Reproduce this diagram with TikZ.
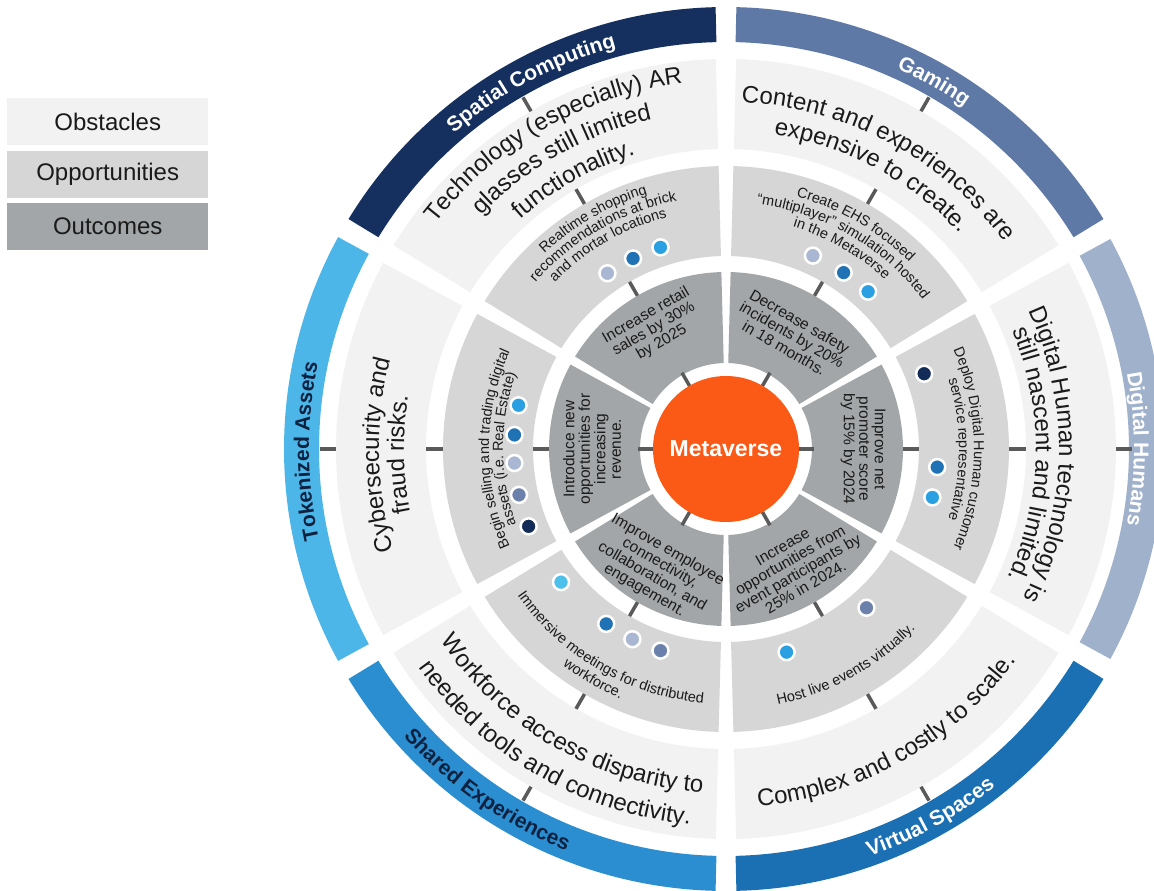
\documentclass[tikz,border=0pt]{standalone}
\usepackage{fontspec}
\setmainfont{Liberation Sans}
\usetikzlibrary{decorations.text}
\definecolor{obs}{HTML}{F2F2F2}
\definecolor{opp}{HTML}{D6D6D6}
\definecolor{outc}{HTML}{A3A6A8}
\definecolor{meta}{HTML}{FB5A16}
\definecolor{tickc}{HTML}{5A5A5A}
\definecolor{bSpatial}{HTML}{15305E}
\definecolor{bGaming}{HTML}{5E79A6}
\definecolor{bDigital}{HTML}{A0B1CC}
\definecolor{bVirtual}{HTML}{1A70B3}
\definecolor{bShared}{HTML}{2A8ED1}
\definecolor{bToken}{HTML}{4DB6E9}
\definecolor{dLgb}{HTML}{A9B7D3}
\definecolor{dMed}{HTML}{1F72B3}
\definecolor{dBright}{HTML}{2A9FE2}
\definecolor{dNavy}{HTML}{132B58}
\definecolor{dSlate}{HTML}{6B81AC}
\definecolor{dSky}{HTML}{4CBFEA}
\definecolor{labdark}{HTML}{0E2240}
\definecolor{txt}{HTML}{1A1A1A}
\newcommand\annsec[5]{\fill[#1] (#2:#4) arc[start angle=#2,end angle=#3,radius=#4] -- (#3:#5) arc[start angle=#3,end angle=#2,radius=#5] -- cycle;}
\newcommand\cwline[4]{\path[decorate,decoration={text along path,text align=center,text={#4}}] ({#1+#3}:#2) arc[start angle={#1+#3},end angle={#1-#3},radius=#2];}
\newcommand\ccwline[4]{\path[decorate,decoration={text along path,text align=center,text={#4}}] ({#1-#3}:#2) arc[start angle={#1-#3},end angle={#1+#3},radius=#2];}
\newcommand\obsfont{\fontsize{24}{26}\selectfont\color{txt}}
\newcommand\oppfont{\fontsize{14.5}{16}\selectfont\color{txt}}
\newcommand\bandfont{\bfseries\fontsize{21}{24}\selectfont}
\tikzset{
  tickmark/.style={draw=tickc, line width=3.5pt},
  dot/.style={draw=white, line width=2.5pt},
  outtext/.style={align=center, text=txt, font=\fontsize{15.5}{15.5}\selectfont, inner sep=0pt},
  legbox/.style={minimum width=201pt, minimum height=47pt, inner sep=0pt, font=\fontsize{24}{26}\selectfont, text=txt, anchor=north west},
}
\begin{document}
\begin{tikzpicture}[x=1pt,y=1pt]
\useasboundingbox (-726,-442) rectangle (428,449);
\fill[white] (-726,-442) rectangle (428,449);
\clip (-726,-442) rectangle (428,449);
% rings
\foreach \c in {0,60,...,300}{
  \pgfmathsetmacro\aS{\c-28.5}\pgfmathsetmacro\aE{\c+28.5}
  \annsec{obs}{\aS}{\aE}{300}{390}
  \annsec{opp}{\aS}{\aE}{193}{283}
  \annsec{outc}{\aS}{\aE}{86}{177}
}
\foreach \c/\col/\ri in {0/bDigital/403,60/bGaming/407,120/bSpatial/407,180/bToken/407,240/bShared/407,300/bVirtual/407}{
  \pgfmathsetmacro\aS{\c-28.65}\pgfmathsetmacro\aE{\c+28.65}\pgfmathsetmacro\ro{\ri+35}
  \annsec{\col}{\aS}{\aE}{\ri}{\ro}
}
% ticks
\foreach \c in {0,60,...,300}{
  \foreach \ra/\rb in {390/406,283/300,177/193,70/88}{
    \draw[tickmark] (\c:\ra) -- (\c:\rb);
  }
}
% centre
\node[circle, fill=meta, minimum size=146pt, inner sep=0pt, text=white, font=\bfseries\fontsize{23}{25}\selectfont] (meta) at (0,0) {Metaverse};
% dots
\foreach \a/\col in {124/dLgb,116/dMed,108/dBright,65.8/dLgb,56.3/dMed,47.9/dBright,20.8/dNavy,-4.9/dMed,-13.2/dBright,311.5/dSlate,286.6/dBright,218.9/dSky,235.6/dMed,243.8/dLgb,252/dSlate,168.1/dBright,176.2/dMed,183.8/dLgb,192.5/dSlate,201.4/dNavy}{
  \filldraw[dot, fill=\col] (\a:212) circle[radius=8];
}
% band labels
\cwline{118}{417}{28}{|\bandfont\color{white}|Spatial Computing}
\cwline{60.5}{417}{28}{|\bandfont\color{white}|Gaming}
\cwline{0}{408}{28}{|\bandfont\color{white}|Digital Humans}
\cwline{180.3}{417}{28}{|\bandfont\color{labdark}|Tokenized Assets}
\ccwline{299}{432}{28}{|\bandfont\color{white}|Virtual Spaces}
\ccwline{235}{432}{28}{|\bandfont\color{labdark}|Shared Experiences}
% obstacles
\cwline{119.5}{368}{29}{|\obsfont|Technology (especially) AR}
\cwline{119.5}{338}{29}{|\obsfont|glasses still limited}
\cwline{119.5}{308}{29}{|\obsfont|functionality.}
\cwline{62}{347}{29}{|\obsfont|Content and experiences are}
\cwline{62}{318}{29}{|\obsfont|expensive to create.}
\cwline{-1}{333}{29}{|\obsfont|Digital Human technology is}
\cwline{-1}{310}{29}{|\obsfont|still nascent and limited.}
\cwline{181}{347}{29}{|\obsfont|Cybersecurity and}
\cwline{181}{322}{29}{|\obsfont|fraud risks.}
\ccwline{299.5}{359}{29}{|\obsfont|Complex and costly to scale.}
\ccwline{240}{344}{29}{|\obsfont|Workforce access disparity to}
\ccwline{240}{377}{29}{|\obsfont|needed tools and connectivity.}
% opportunities
\cwline{120}{267}{28}{|\oppfont|Realtime shopping}
\cwline{120}{253}{28}{|\oppfont|recommendations at brick}
\cwline{120}{239}{28}{|\oppfont|and mortar locations}
\cwline{60}{262}{28}{|\oppfont|Create EHS focused}
\cwline{60}{247}{28}{|\oppfont|“multiplayer” simulation hosted}
\cwline{60}{232}{28}{|\oppfont|in the Metaverse}
\cwline{0}{248}{28}{|\oppfont|Deploy Digital Human customer}
\cwline{0}{233}{28}{|\oppfont|service representative}
\cwline{180}{237}{28}{|\oppfont|Begin selling and trading digital}
\cwline{180}{223}{28}{|\oppfont|assets (i.e. Real Estate)}
\ccwline{299}{261}{28}{|\oppfont|Host live events virtually.}
\ccwline{240}{255}{28}{|\oppfont|Immersive meetings for distributed}
\ccwline{240}{271}{28}{|\oppfont|workforce.}
% outcomes
\node[outtext, rotate=30] (o120) at (121:140) {Increase retail\\sales by 30\%\\by 2025};
\node[outtext, rotate=-30] (o60) at (60:132) {Decrease safety\\incidents by 20\%\\in 18 months.};
\node[outtext, rotate=-90] (o0) at (0:137) {Improve net\\promoter score\\by 15\% by 2024};
\node[outtext, rotate=90] (o180) at (180:134) {Introduce new\\opportunities for\\increasing\\revenue.};
\node[outtext, rotate=30] (o300) at (300:136) {Increase\\opportunities from\\event participants by\\25\% in 2024.};
\node[outtext, rotate=-30] (o240) at (240:140) {Improve employee\\connectivity,\\collaboration, and\\engagement.};
% legend
\node[legbox, fill=obs] (lobs) at (-719,351) {Obstacles};
\node[legbox, fill=opp] (lopp) at (-719,298) {Opportunities};
\node[legbox, fill=outc] (lout) at (-719,246) {Outcomes};
\end{tikzpicture}
\end{document}
